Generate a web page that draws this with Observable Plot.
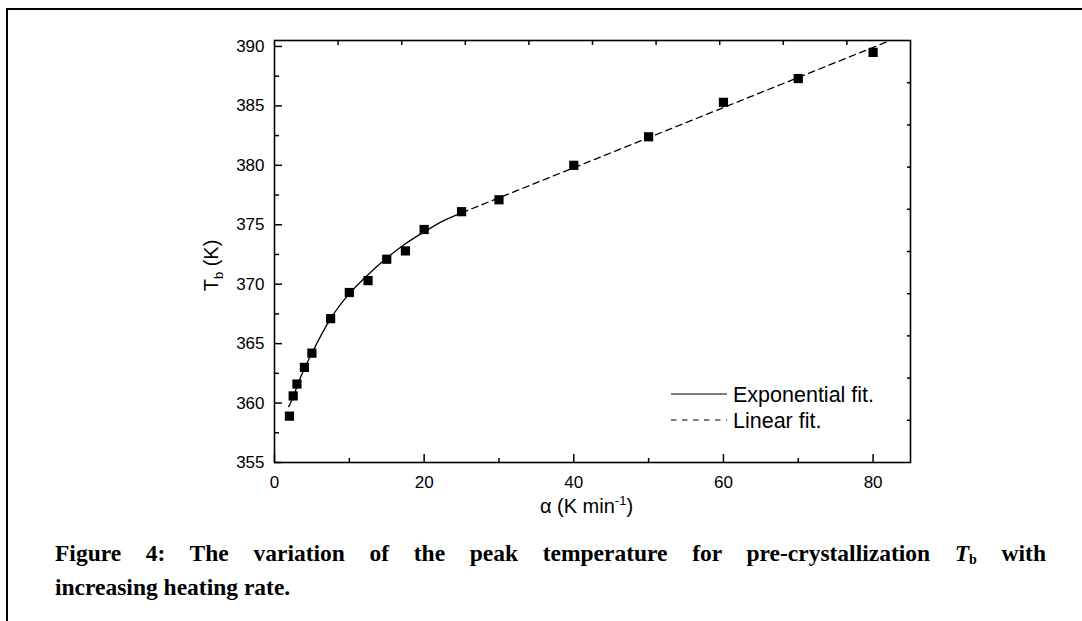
<!DOCTYPE html>
<html><head><meta charset="utf-8">
<script src="https://cdn.jsdelivr.net/npm/d3@7"></script>
<script src="https://cdn.jsdelivr.net/npm/@observablehq/plot@0.6"></script>
<style>
html,body{margin:0;padding:0;background:#fff;}
#page{position:relative;width:1082px;height:621px;overflow:hidden;background:#fff;}
#border{position:absolute;left:6px;top:8px;width:1100px;height:640px;border-top:2px solid #000;border-left:2px solid #000;}
#chart{position:absolute;left:0;top:0;}
#caption{position:absolute;left:55px;top:536px;width:991px;font-family:"Liberation Serif","Times New Roman",serif;font-weight:bold;font-size:23.5px;line-height:34px;color:#000;}
#caption .l1{text-align:justify;text-align-last:justify;}
#caption i{font-style:italic;}
#caption sub{font-size:0.6em;vertical-align:-0.2em;line-height:0;font-style:normal;}
</style></head>
<body>
<div id="page">
  <div id="border"></div>
  <div id="chart"></div>
  <div id="caption">
    <div class="l1">Figure 4: The variation of the peak temperature for pre-crystallization <i>T</i><sub>b</sub> with</div>
    <div class="l2">increasing heating rate.</div>
  </div>
</div>
<script>
// Measured data (heating rate α in K/min, peak temperature Tb in K)
const alpha = [2, 2.5, 3, 4, 5, 7.5, 10, 12.5, 15, 17.5, 20, 25, 30, 40, 50, 60, 70, 80];
const Tb    = [358.9, 360.6, 361.6, 363.0, 364.2, 367.1, 369.3, 370.3, 372.1, 372.8, 374.6, 376.1, 377.1, 380.0, 382.4, 385.3, 387.3, 389.5];

// Exponential fit curve
const expFitX = [1.9, 2.5, 3, 4, 5, 7.5, 10, 12.5, 15, 17.5, 20, 22.5, 25];
const expFitY = [359.7, 360.5, 361.4, 362.9, 364.2, 367.1, 369.2, 370.8, 372.2, 373.4, 374.4, 375.3, 376.0];

// Linear fit line
const linFitX = [25, 82.3];
const linFitY = [376.0, 390.5];

// Ticks
const xTicksMajor = [0, 20, 40, 60, 80];
const xTicksMinor = [10, 30, 50, 70];
const yTicksMajor = [355, 360, 365, 370, 375, 380, 385, 390];
const yTicksMinor = [357.5, 362.5, 367.5, 372.5, 377.5, 382.5, 387.5];
const topTicks = [8.5, 17, 25.5, 34, 42.5, 51, 59.5, 68, 76.5];
const rightTicks = [358.55, 362.1, 365.65, 369.2, 372.75, 376.3, 379.85, 383.4, 386.95];

const xLabel = "α (K min-1)";
const yLabel = "Tb (K)";
const legendLabels = ["Exponential fit.", "Linear fit."];

const points = alpha.map((a, i) => ({a, t: Tb[i]}));
const expFit = expFitX.map((a, i) => ({a, t: expFitY[i]}));
const linFit = linFitX.map((a, i) => ({a, t: linFitY[i]}));

const svg = Plot.plot({
  width: 1082,
  height: 520,
  marginLeft: 274,
  marginRight: 172,
  marginTop: 40,
  marginBottom: 58,
  x: {domain: [0, 85]},
  y: {domain: [355, 390.5]},
  style: {fontFamily: "'Liberation Sans', Arial, sans-serif", fontSize: "17px", color: "black", background: "transparent", overflow: "visible"},
  marks: [
    Plot.axisX(xTicksMajor, {tickSize: -8, fill: "none", strokeWidth: 1.5}),
    Plot.axisX(xTicksMinor, {tickSize: -4, fill: "none", strokeWidth: 1.5}),
    Plot.axisX(xTicksMajor, {tickSize: 0, tickPadding: 13, stroke: "none", label: null}),
    Plot.axisX(topTicks, {anchor: "top", tickSize: -4, fill: "none", strokeWidth: 1.5}),
    Plot.axisY(yTicksMajor, {tickSize: -8, fill: "none", strokeWidth: 1.5}),
    Plot.axisY(yTicksMinor, {tickSize: -5, fill: "none", strokeWidth: 1.5}),
    Plot.axisY(yTicksMajor, {tickSize: 0, tickPadding: 10, stroke: "none", label: null}),
    Plot.axisY(rightTicks, {anchor: "right", tickSize: -4, fill: "none", strokeWidth: 1.5}),
    Plot.frame({stroke: "black", strokeWidth: 1.6}),
    Plot.line(expFit, {x: "a", y: "t", curve: "monotone-x", stroke: "black", strokeWidth: 1.3}),
    Plot.line(linFit, {x: "a", y: "t", stroke: "black", strokeWidth: 1.3, strokeDasharray: "6.5,4.5", clip: true}),
    Plot.dot(points, {x: "a", y: "t", symbol: "square", r: 5.2, fill: "black", stroke: "none"}),
    Plot.text([xLabel], {frameAnchor: "bottom", dx: -6, dy: 50, fontSize: 20, fill: "black"}),
    Plot.text([yLabel], {frameAnchor: "left", dx: -63, dy: 14, rotate: -90, fontSize: 20, fill: "black"})
  ]
});

document.getElementById("chart").appendChild(svg);

// Rich text for axis labels (superscript / subscript), centred on their anchor
const s = d3.select(svg);
function center(t) {
  t.attr("text-anchor", "start").attr("x", 0);
  const w = t.node().getBBox().width;
  t.attr("x", -w / 2);
}
s.selectAll("text").filter(function() { return this.textContent === xLabel; }).each(function() {
  const t = d3.select(this).text(null);
  t.append("tspan").text("α (K min");
  t.append("tspan").attr("font-size", 13).attr("dy", -8).text("-1");
  t.append("tspan").attr("font-size", 20).attr("dy", 8).text(")");
  center(t);
});
s.selectAll("text").filter(function() { return this.textContent === yLabel; }).each(function() {
  const t = d3.select(this).text(null);
  t.append("tspan").text("T");
  t.append("tspan").attr("font-size", 13).attr("dy", 5).text("b");
  t.append("tspan").attr("font-size", 20).attr("dy", -5).text(" (K)");
  center(t);
});

// Legend inside the plot area
const lg = s.append("g").attr("font-family", "'Liberation Sans', Arial, sans-serif").attr("font-size", 21.5)
  .attr("fill", "black").attr("text-anchor", "start");
const legendRows = [{y: 394, dash: null}, {y: 420, dash: "5.5,5.5"}];
legendRows.forEach((r, i) => {
  const line = lg.append("line").attr("x1", 671).attr("x2", 727).attr("y1", r.y).attr("y2", r.y)
    .attr("stroke", "black").attr("stroke-width", 1.2);
  if (r.dash) line.attr("stroke-dasharray", r.dash);
  lg.append("text").attr("x", 733).attr("y", r.y).attr("dy", "0.35em").text(legendLabels[i]);
});
</script>
</body></html>
